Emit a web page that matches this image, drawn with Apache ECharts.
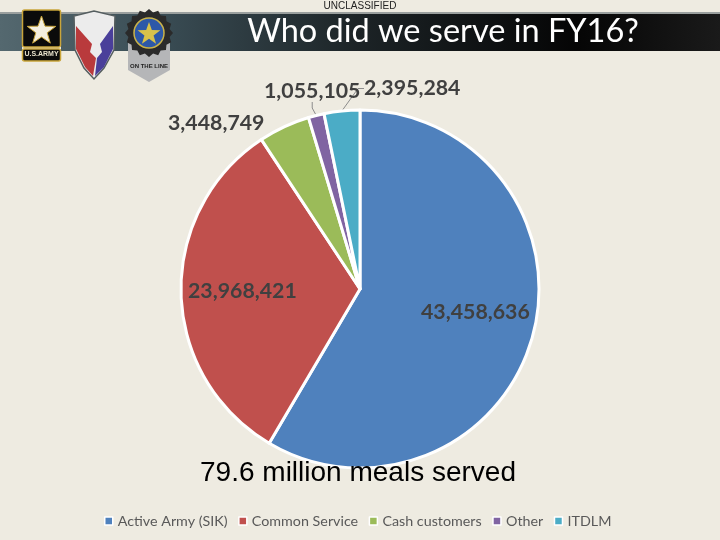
<!DOCTYPE html>
<html>
<head>
<meta charset="utf-8">
<script src="https://cdn.jsdelivr.net/npm/echarts@6/dist/echarts.min.js"></script>
<style>
html, body { margin: 0; padding: 0; background: #eeebe1; }
#graph { width: 720px; height: 540px; }
</style>
</head>
<body>
<div id="graph"></div>
<script>
var categories = ['Active Army (SIK)', 'Common Service', 'Cash customers', 'Other', 'ITDLM'];
var mealCounts = [43458636, 23968421, 3448749, 1055105, 2395284];
var sliceColors = ['#4f81bd', '#c0504d', '#9bbb59', '#8064a2', '#4bacc6'];
var labelSpots = [[421, 302], [188, 281], [168, 113], [264, 81], [364, 78]];
var showLeader = [false, false, false, true, true];

function starPoints(cx, cy, r) {
    var pts = [];
    for (var i = 0; i < 10; i++) {
        var rad = i % 2 ? r * 0.4 : r;
        var a = -Math.PI / 2 + i * Math.PI / 5;
        pts.push([cx + rad * Math.cos(a), cy + rad * Math.sin(a)]);
    }
    return pts;
}

function gearTeeth(cx, cy, r, n) {
    var pts = [];
    for (var i = 0; i < n * 2; i++) {
        var rad = i % 2 ? r - 3 : r;
        var a = i * Math.PI / n;
        pts.push([cx + rad * Math.cos(a), cy + rad * Math.sin(a)]);
    }
    return pts;
}

var mainData = [];
for (var i = 0; i < categories.length; i++) {
    mainData.push({
        name: categories[i],
        value: mealCounts[i],
        itemStyle: { color: sliceColors[i] },
        labelLine: { show: showLeader[i] }
    });
}

var myChart = echarts.init(document.getElementById('graph'), null, { renderer: 'canvas' });

var option = {
    animation: false,
    backgroundColor: '#eeebe1',
    legend: {
        data: categories,
        left: 104,
        top: 514,
        itemWidth: 8,
        itemHeight: 8,
        itemGap: 10.5,
        icon: 'rect',
        padding: 0,
        itemStyle: { borderColor: '#ffffff', borderWidth: 1.5 },
        textStyle: { fontFamily: 'Lato', fontSize: 14.3, color: '#595959', padding: [0, 0, 0, 0] }
    },
    series: [{
        type: 'pie',
        radius: 179,
        center: [360, 289],
        startAngle: 90,
        clockwise: true,
        z: 2,
        data: mainData,
        itemStyle: { borderColor: '#ffffff', borderWidth: 3 },
        label: {
            show: true,
            position: 'outside',
            formatter: function (p) { return echarts.format.addCommas(p.value); },
            fontFamily: 'Lato',
            fontWeight: 'bold',
            fontSize: 21.3,
            color: '#404040',
            align: 'left',
            verticalAlign: 'top'
        },
        labelLine: { show: true, length: 8, length2: 6, lineStyle: { color: '#8c8c8c', width: 1 } },
        labelLayout: function (p) {
            return { x: labelSpots[p.dataIndex][0], y: labelSpots[p.dataIndex][1], align: 'left', verticalAlign: 'top' };
        }
    }],
    graphic: [
        { type: 'rect', z: 1, shape: { x: 0, y: 13, width: 720, height: 38 },
          style: { fill: new echarts.graphic.LinearGradient(0, 0, 1, 0, [
              { offset: 0, color: '#54686f' }, { offset: 0.22, color: '#3a4d55' },
              { offset: 0.5, color: '#1c2326' }, { offset: 0.8, color: '#050505' }, { offset: 1, color: '#1a1a1a' }
          ]) } },
        { type: 'rect', z: 1, shape: { x: 0, y: 12, width: 720, height: 2 }, style: { fill: '#9a9f9e' } },
        { type: 'text', z: 5, style: { x: 360, y: 1, text: 'UNCLASSIFIED', align: 'center', fill: '#222222', font: '10px "Liberation Sans"' } },
        { type: 'text', z: 5, style: { x: 443, y: 15, text: 'Who did we serve in FY16?', align: 'center', fill: '#ffffff', font: '32.5px Lato' } },
        // army logo
        { type: 'rect', z: 5, shape: { x: 22, y: 9, width: 39, height: 53 }, style: { fill: '#eeebe1' } },
        { type: 'rect', z: 6, shape: { x: 22.5, y: 10, width: 38, height: 37, r: 2 }, style: { fill: '#0b0b0b', stroke: '#c9a53a', lineWidth: 1.5 } },
        { type: 'polygon', z: 7, shape: { points: starPoints(41.5, 31, 15) }, style: { fill: '#f4efe0', stroke: '#c9a53a', lineWidth: 1 } },
        { type: 'rect', z: 6, shape: { x: 22.5, y: 49, width: 38, height: 12, r: 2 }, style: { fill: '#0b0b0b', stroke: '#c9a53a', lineWidth: 1.5 } },
        { type: 'text', z: 7, style: { x: 41.5, y: 51, text: 'U.S.ARMY', align: 'center', fill: '#e8e2cc', font: 'bold 7px "Liberation Sans"' } },
        // shield
        { type: 'polygon', z: 5, shape: { points: [[74, 16], [94, 11], [115, 16], [114, 50], [104, 68], [94, 79], [84, 68], [75, 50]] }, style: { fill: '#ececec', stroke: '#555e60', lineWidth: 1.5 } },
        { type: 'polygon', z: 6, shape: { points: [[76, 26], [92, 44], [90, 52], [96, 58], [93, 76], [85, 67], [76, 49]] }, style: { fill: '#b93a3c' } },
        { type: 'polygon', z: 6, shape: { points: [[113, 26], [100, 44], [102, 52], [97, 58], [95, 76], [104, 67], [113, 49]] }, style: { fill: '#4a3f9a' } },
        // gear badge
        { type: 'polygon', z: 5, shape: { points: [[128, 40], [170, 40], [170, 70], [149, 82], [128, 70]] }, style: { fill: '#b5b6b8' } },
        { type: 'polygon', z: 6, shape: { points: gearTeeth(149, 33, 24, 16) }, style: { fill: '#2a2a2a' } },
        { type: 'circle', z: 7, shape: { cx: 149, cy: 33, r: 15 }, style: { fill: '#2d58a8', stroke: '#c9b24a', lineWidth: 1.5 } },
        { type: 'polygon', z: 8, shape: { points: starPoints(149, 34, 12) }, style: { fill: '#d8c24a' } },
        { type: 'text', z: 8, style: { x: 149, y: 63, text: 'ON THE LINE', align: 'center', fill: '#222222', font: 'bold 6px "Liberation Sans"' } },
        // caption, sits on top of the pie
        { type: 'text', z: 100, style: { x: 358, y: 459, text: '79.6 million meals served', align: 'center', fill: '#000000', font: '28px "Liberation Sans"' } }
    ]
};

myChart.setOption(option);
</script>
</body>
</html>
